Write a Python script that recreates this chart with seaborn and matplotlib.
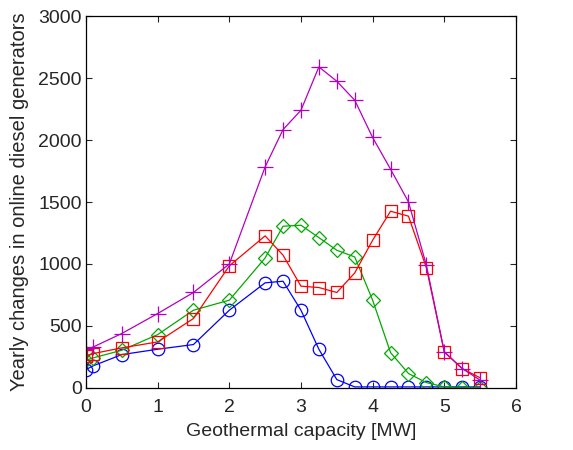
import matplotlib
matplotlib.use("Agg")
import matplotlib.pyplot as plt
import seaborn as sns

# Dados
capacity = [0, 0.1, 0.5, 1, 1.5, 2, 2.5, 2.75, 3, 3.25, 3.5, 3.75, 4, 4.25, 4.5, 4.75, 5, 5.25, 5.5]
blue_circles = [148, 178, 269, 312, 350, 627, 848, 861, 627, 312, 67, 8, 8, 8, 8, 8, 8, 8, 8]
green_diamonds = [223, 242, 304, 430, 627, 708, 1049, 1305, 1313, 1213, 1111, 1057, 708, 285, 116, 43, 8, 3, 0]
red_squares = [258, 277, 323, 371, 560, 985, 1227, 1071, 821, 810, 770, 928, 1192, 1426, 1386, 969, 290, 156, 81]
magenta_plus = [310, 330, 439, 600, 770, 1000, 1784, 2085, 2241, 2591, 2475, 2322, 2021, 1765, 1501, 990, 290, 156, 62]

sns.set_style("ticks")
plt.rcParams['font.family'] = ['Liberation Sans', 'DejaVu Sans']

fig = plt.figure(figsize=(5.73, 4.5), dpi=100)
ax = fig.add_axes([0.150, 0.138, 0.7505, 0.826])

series = [
    (blue_circles, '#0000ff', 'o', 9),
    (green_diamonds, '#00aa00', 'D', 7.5),
    (red_squares, '#ff0000', 's', 9),
    (magenta_plus, '#b400c0', '+', 11),
]
for values, color, marker, size in series:
    sns.lineplot(x=capacity, y=values, ax=ax, color=color, linewidth=0.9,
                 marker=marker, markersize=size, markerfacecolor='none',
                 markeredgecolor=color, markeredgewidth=0.9)

ax.set_xlim(0, 6)
ax.set_ylim(0, 3000)
ax.set_xticks(range(0, 7))
ax.set_yticks(range(0, 3001, 500))
ax.tick_params(direction='in', top=True, right=True, labelsize=14, length=4, width=0.8)
ax.tick_params(axis='y', pad=3)
ax.tick_params(axis='x', pad=8)
for spine in ax.spines.values():
    spine.set_linewidth(0.9)
    spine.set_color('black')
ax.set_xlabel('Geothermal capacity [MW]', fontsize=14, labelpad=5)
ax.set_ylabel('Yearly changes in online diesel generators', fontsize=14.5, labelpad=7)

fig.savefig('out.png', dpi=100)
